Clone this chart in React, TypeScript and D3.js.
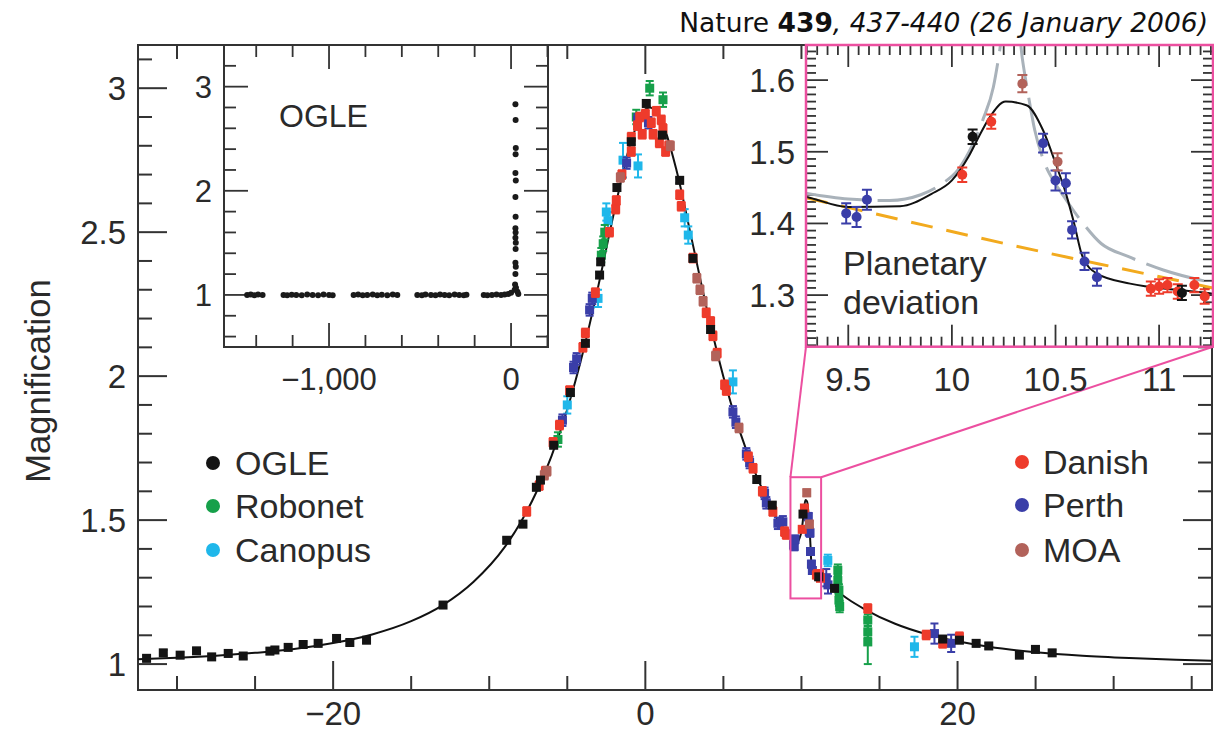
import React, { useEffect, useRef } from 'react';
import * as d3 from 'd3';

const W = 1214;
const H = 734;

// best-fit model light curve (incl. the planetary bump)
const modelT = [-32.5, -30, -27.5, -25, -22.5, -20, -17.5, -15, -13, -11, -9, -8, -7, -6, -5, -4, -3, -2, -1, 0,
  0.3, 1, 2, 3, 4, 5, 6, 7, 8, 9, 9.3, 9.5, 9.75, 9.9, 10, 10.08, 10.13, 10.18, 10.26, 10.36,
  10.44, 10.5, 10.55, 10.59, 10.63, 10.7, 10.86, 11.1, 11.26, 12, 13, 14, 16, 18, 20, 22, 25, 28, 31, 34, 36.3];
const modelM = [1.017, 1.022, 1.029, 1.039, 1.052, 1.073, 1.103, 1.149, 1.204, 1.286, 1.407, 1.491, 1.595, 1.724, 1.885, 2.082, 2.316, 2.57, 2.799, 2.927,
  2.933, 2.893, 2.714, 2.468, 2.219, 1.998, 1.816, 1.669, 1.55, 1.455, 1.437, 1.423, 1.424, 1.441, 1.46, 1.493, 1.521, 1.547, 1.57, 1.565,
  1.53, 1.484, 1.442, 1.4, 1.354, 1.33, 1.316, 1.307, 1.302, 1.267, 1.225, 1.192, 1.14, 1.104, 1.079, 1.06, 1.041, 1.029, 1.021, 1.015, 1.012];

// zoom panel: no-planet curve (orange dashes) and alternative model (grey dashes)
const singleT = [9.296, 9.8, 10.3, 10.8, 11.26];
const singleM = [1.436, 1.402, 1.369, 1.338, 1.31];
const altT = [9.296, 9.5, 9.7, 9.85, 9.95, 10.03, 10.1, 10.15, 10.2, 10.23, 10.26, 10.31, 10.34, 10.37, 10.4, 10.44, 10.5, 10.53, 10.62, 10.72, 10.85, 11.02, 11.26];
const altM = [1.442, 1.434, 1.432, 1.44, 1.455, 1.475, 1.51, 1.545, 1.59, 1.64, 1.7, 1.7, 1.63, 1.577, 1.53, 1.49, 1.455, 1.442, 1.405, 1.372, 1.354, 1.335, 1.317];

// [days, magnification, error]
const ogle = [[-31.95, 1.02], [-30.88, 1.039], [-29.8, 1.031], [-28.75, 1.046], [-27.78, 1.025], [-26.72, 1.037], [-25.76, 1.028],
  [-24.05, 1.045], [-23.73, 1.049], [-22.88, 1.058], [-21.92, 1.068], [-20.96, 1.072], [-19.78, 1.089], [-18.93, 1.075], [-17.86, 1.083],
  [-12.96, 1.205], [-8.88, 1.43], [-7.84, 1.486], [-6.98, 1.614], [-6.72, 1.639], [-5.87, 1.76], [-4.8, 1.943], [-3.84, 2.114],
  [-2.93, 2.351], [-2.86, 2.397], [-1.82, 2.655], [-0.9, 2.814], [0.06, 2.947], [1.09, 2.837], [2.2, 2.68], [3.05, 2.409], [4.18, 2.162],
  [7.14, 1.641], [8.13, 1.552], [10.1, 1.521], [11.11, 1.303], [12.12, 1.263], [19.05, 1.087], [20.12, 1.083], [21.19, 1.072],
  [22.0, 1.063], [23.96, 1.031], [24.99, 1.051], [26.06, 1.039]];
const robonet = [[-5.6, 1.78], [-2.82, 2.42], [-2.7, 2.46], [-2.6, 2.5], [-0.58, 2.9], [0.28, 3.0], [1.13, 2.96],
  [12.33, 1.326, 0.02], [12.33, 1.29, 0.02], [12.4, 1.257, 0.02], [12.4, 1.222, 0.02], [12.45, 1.2, 0.02],
  [14.25, 1.153, 0.02], [14.25, 1.112, 0.02], [14.25, 1.077, 0.077]];
const canopus = [[-5.0, 1.9], [-3.03, 2.27], [-2.5, 2.57], [-2.39, 2.54], [-1.43, 2.75, 0.06], [-0.47, 2.73, 0.04], [2.52, 2.55],
  [2.75, 2.49], [5.61, 1.98, 0.04], [11.69, 1.36, 0.02], [17.24, 1.06, 0.035]];
const danish = [[-7.6, 1.53], [-6.8, 1.62], [-6.4, 1.67], [-5.91, 1.77], [-5.5, 1.83], [-4.85, 1.95], [-4.0, 2.1], [-3.84, 2.15],
  [-3.2, 2.29], [-2.3, 2.5], [-1.9, 2.58], [-1.86, 2.61], [-1.5, 2.7], [-0.9, 2.83], [-0.9, 2.78], [-0.5, 2.87], [-0.36, 2.9],
  [-0.2, 2.84], [0.0, 2.91], [0.38, 2.88], [0.5, 2.84], [0.7, 2.92], [0.9, 2.81], [1.02, 2.89], [1.13, 2.86], [1.3, 2.78], [1.5, 2.8],
  [2.2, 2.63], [2.3, 2.59], [3.05, 2.41], [3.9, 2.22], [4.18, 2.19], [4.33, 2.14], [4.6, 2.08], [5.08, 1.97], [5.19, 1.95],
  [6.6, 1.72], [6.9, 1.68], [7.5, 1.6], [8.17, 1.53], [8.92, 1.46], [9.03, 1.45], [10.05, 1.468, 0.01], [10.19, 1.542, 0.01],
  [10.96, 1.309, 0.01], [11.0, 1.312, 0.01], [11.04, 1.314, 0.01], [11.09, 1.305, 0.01], [11.17, 1.314, 0.01], [11.22, 1.298, 0.01],
  [14.25, 1.193], [17.99, 1.101], [19.05, 1.072], [20.12, 1.095]];
const perth = [[-5.31, 1.847], [-4.6, 2.03], [-4.4, 2.06], [-3.57, 2.23], [-3.4, 2.27], [-1.2, 2.74], [-0.5, 2.89], [0.2, 2.88],
  [5.61, 1.876], [5.8, 1.84], [6.47, 1.73], [6.68, 1.7], [7.64, 1.593], [7.75, 1.56], [8.49, 1.489], [8.81, 1.494],
  [9.49, 1.414, 0.014], [9.54, 1.409, 0.014], [9.59, 1.433, 0.014], [10.44, 1.512, 0.013], [10.5, 1.46, 0.014], [10.55, 1.456, 0.014],
  [10.58, 1.391, 0.012], [10.64, 1.347, 0.012], [10.7, 1.325, 0.012], [11.59, 1.3, 0.03], [11.7, 1.275, 0.03],
  [18.52, 1.106, 0.035], [19.59, 1.072, 0.03]];
const moa = [[-6.47, 1.656], [-6.3, 1.67], [-1.6, 2.69], [1.6, 2.8], [3.3, 2.34], [3.5, 2.3], [3.7, 2.26], [4.5, 2.07], [6.0, 1.82],
  [10.34, 1.595, 0.012], [10.51, 1.486, 0.012]];

// OGLE long-term light curve (upper-left inset)
const ogleLongT = [-1450, -1430, -1410, -1390, -1365, -1250, -1230, -1205, -1180, -1150, -1120, -1090, -1060, -1030, -1000, -980,
  -865, -840, -815, -790, -760, -735, -710, -680, -650, -625, -515, -490, -470, -440, -415, -390, -365, -340, -310, -285, -260, -245,
  -150, -130, -105, -80, -55, -35, -15, 0, 20, 35, 40, 27, 22, 24, 26, 24, 25, 26, 24, 25, 24, 25, 24, 26, 24, 25, 26, 25, 24];
const ogleLongM = [1.0, 1.005, 0.998, 1.003, 1.0, 1.0, 0.997, 1.002, 1.0, 0.996, 1.003, 1.0, 0.998, 1.004, 1.0, 0.997,
  1.0, 1.003, 0.998, 1.0, 1.004, 0.997, 1.002, 0.998, 1.003, 1.0, 1.0, 0.996, 1.003, 1.0, 0.997, 1.004, 1.0, 0.996, 1.003, 1.0, 0.998, 1.002,
  1.0, 0.997, 1.0, 1.003, 1.0, 1.005, 1.01, 1.02, 1.05, 1.03, 1.01, 1.07, 1.1, 1.2, 1.27, 1.31, 1.44, 1.5, 1.55, 1.6, 1.64, 1.75, 1.94, 2.1,
  2.17, 2.35, 2.41, 2.68, 2.83, 2.95];

const mainXLabels = [-20, 0, 20];
const mainYLabels = [1, 1.5, 2, 2.5, 3];
const ogleXLabels = [-1000, 0];
const ogleYLabels = [1, 2, 3];
const zoomXLabels = [9.5, 10, 10.5, 11];
const zoomYLabels = [1.3, 1.4, 1.5, 1.6];

const colors = {
  OGLE: '#141414', Robonet: '#16a04a', Canopus: '#1fb7ea',
  Danish: '#ee3b2b', Perth: '#3a3ea8', MOA: '#b2625a',
};
const legendLeft = ['OGLE', 'Robonet', 'Canopus'];
const legendRight = ['Danish', 'Perth', 'MOA'];

// drawn back to front
const series = [
  { name: 'Canopus', data: canopus, err: 0.03 },
  { name: 'Robonet', data: robonet, err: 0.025 },
  { name: 'Perth', data: perth, err: 0.02 },
  { name: 'Danish', data: danish, err: 0.015 },
  { name: 'MOA', data: moa, err: 0.015 },
  { name: 'OGLE', data: ogle, err: 0.01 },
];

const FONT = '"Liberation Sans", Arial, Helvetica, sans-serif';
const TXT = '#2a2a2a';
const PINK = '#ec4fa0';

const isMult = (v, step) => Math.abs(v / step - Math.round(v / step)) < 1e-6;

function drawTicks(g, xs, ys, xVals, yVals, xMaj, yMaj, lenMaj, lenMin, sw) {
  const [xa, xb] = xs.range();
  const [ya, yb] = ys.range();
  xVals.forEach(v => {
    const L = xMaj(v) ? lenMaj : lenMin;
    const px = xs(v);
    g.append('line').attr('x1', px).attr('x2', px).attr('y1', ya).attr('y2', ya - L);
    g.append('line').attr('x1', px).attr('x2', px).attr('y1', yb).attr('y2', yb + L);
  });
  yVals.forEach(v => {
    const L = yMaj(v) ? lenMaj : lenMin;
    const py = ys(v);
    g.append('line').attr('x1', xa).attr('x2', xa + L).attr('y1', py).attr('y2', py);
    g.append('line').attr('x1', xb).attr('x2', xb - L).attr('y1', py).attr('y2', py);
  });
  g.selectAll('line').attr('stroke', '#333').attr('stroke-width', sw);
}

const App = () => {
  const ref = useRef(null);

  useEffect(() => {
    const svg = d3.select(ref.current);
    svg.selectAll('*').remove();

    svg.append('rect').attr('width', W).attr('height', H).attr('fill', '#fff');

    // ---- main panel ----
    const x = d3.scaleLinear().domain([-32.5, 36.3]).range([138, 1212]);
    const y = d3.scaleLinear().domain([0.91, 3.15]).range([690, 45]);

    const tg = svg.append('g');
    drawTicks(tg, x, y, d3.range(-30, 36, 5), d3.range(10, 32).map(v => v / 10),
      v => isMult(v, 20), v => isMult(v, 0.5), 29, 14, 2);

    svg.append('rect').attr('x', 138).attr('y', 45).attr('width', 1212 - 138).attr('height', 690 - 45)
      .attr('fill', 'none').attr('stroke', '#333').attr('stroke-width', 2);

    svg.append('g').selectAll('text').data(mainXLabels).join('text')
      .attr('x', d => x(d)).attr('y', 725).attr('text-anchor', 'middle')
      .attr('font-family', FONT).attr('font-size', 33).attr('fill', TXT)
      .text(d => d3.format('')(d));
    svg.append('g').selectAll('text').data(mainYLabels).join('text')
      .attr('x', 126).attr('y', d => y(d)).attr('dy', '0.36em').attr('text-anchor', 'end')
      .attr('font-family', FONT).attr('font-size', 33).attr('fill', TXT)
      .text(d => d3.format('')(d));
    svg.append('text').attr('transform', 'translate(50,381) rotate(-90)').attr('text-anchor', 'middle')
      .attr('font-family', FONT).attr('font-size', 34.5).attr('fill', TXT).text('Magnification');

    const idx = d3.range(modelT.length);
    const mainLine = d3.line().x(i => x(modelT[i])).y(i => y(modelM[i])).curve(d3.curveMonotoneX);
    svg.append('path').attr('d', mainLine(idx)).attr('fill', 'none').attr('stroke', '#111').attr('stroke-width', 2);

    series.forEach(s => {
      const g = svg.append('g').attr('stroke', colors[s.name]).attr('fill', colors[s.name]);
      s.data.forEach(p => {
        const e = p[2] ?? s.err;
        const px = x(p[0]);
        const y1 = y(p[1] - e), y2 = y(p[1] + e);
        g.append('line').attr('x1', px).attr('x2', px).attr('y1', y1).attr('y2', y2).attr('stroke-width', 2);
        g.append('line').attr('x1', px - 4).attr('x2', px + 4).attr('y1', y1).attr('y2', y1).attr('stroke-width', 2);
        g.append('line').attr('x1', px - 4).attr('x2', px + 4).attr('y1', y2).attr('y2', y2).attr('stroke-width', 2);
        g.append('rect').attr('x', px - 4.5).attr('y', y(p[1]) - 4.5).attr('width', 9).attr('height', 9).attr('stroke', 'none');
      });
    });

    // legends
    const legend = (names, cx, tx, ys) => {
      names.forEach((n, i) => {
        svg.append('circle').attr('cx', cx).attr('cy', ys[i]).attr('r', 7).attr('fill', colors[n]);
        svg.append('text').attr('x', tx).attr('y', ys[i]).attr('dy', '0.36em')
          .attr('font-family', FONT).attr('font-size', 34).attr('fill', TXT).text(n);
      });
    };
    legend(legendLeft, 213, 235, [463, 506, 550]);
    legend(legendRight, 1022, 1043, [462, 505, 550]);

    // ---- upper-left inset: OGLE long-term ----
    const xl = d3.scaleLinear().domain([-1577, 203]).range([224, 548]);
    const yl = d3.scaleLinear().domain([0.5, 3.4]).range([347, 45]);
    svg.append('rect').attr('x', 224).attr('y', 45).attr('width', 324).attr('height', 302).attr('fill', '#fff');
    const tl = svg.append('g');
    drawTicks(tl, xl, yl, d3.range(-1400, 201, 200), d3.range(3, 18).map(v => v / 5),
      v => isMult(v, 1000), v => isMult(v, 1), 24, 12, 1.8);
    svg.append('rect').attr('x', 224).attr('y', 45).attr('width', 324).attr('height', 302)
      .attr('fill', 'none').attr('stroke', '#333').attr('stroke-width', 2);
    svg.append('g').selectAll('circle').data(d3.range(ogleLongT.length)).join('circle')
      .attr('cx', i => xl(ogleLongT[i])).attr('cy', i => yl(ogleLongM[i])).attr('r', 3).attr('fill', '#1a1a1a');
    svg.append('g').selectAll('text').data(ogleXLabels).join('text')
      .attr('x', d => xl(d)).attr('y', 390).attr('text-anchor', 'middle')
      .attr('font-family', FONT).attr('font-size', 31).attr('fill', TXT).text(d => d3.format(',')(d));
    svg.append('g').selectAll('text').data(ogleYLabels).join('text')
      .attr('x', 212).attr('y', d => yl(d)).attr('dy', '0.36em').attr('text-anchor', 'end')
      .attr('font-family', FONT).attr('font-size', 31).attr('fill', TXT).text(d => d);
    svg.append('text').attr('x', 279).attr('y', 127).attr('font-family', FONT).attr('font-size', 32)
      .attr('fill', TXT).text('OGLE');

    // ---- zoom box and connectors ----
    const zx0 = 9.296, zx1 = 11.26, zy0 = 1.228, zy1 = 1.649;
    const xr = d3.scaleLinear().domain([zx0, zx1]).range([806, 1213]);
    const yr = d3.scaleLinear().domain([zy0, zy1]).range([346.7, 45]);
    svg.append('rect').attr('x', x(zx0)).attr('y', y(zy1)).attr('width', x(zx1) - x(zx0)).attr('height', y(zy0) - y(zy1))
      .attr('fill', 'none').attr('stroke', PINK).attr('stroke-width', 2);
    svg.append('line').attr('x1', x(zx0)).attr('y1', y(zy1)).attr('x2', 806).attr('y2', 346.7)
      .attr('stroke', PINK).attr('stroke-width', 2);
    svg.append('line').attr('x1', x(zx1)).attr('y1', y(zy1)).attr('x2', 1213).attr('y2', 346.7)
      .attr('stroke', PINK).attr('stroke-width', 2);

    // ---- upper-right inset: planetary deviation ----
    svg.append('rect').attr('x', 806).attr('y', 45).attr('width', 407).attr('height', 301.7).attr('fill', '#fff');
    svg.append('clipPath').attr('id', 'zclip').append('rect')
      .attr('x', 806).attr('y', 45).attr('width', 407).attr('height', 301.7);
    const tr = svg.append('g');
    drawTicks(tr, xr, yr, d3.range(186, 226).map(v => v / 20), d3.range(123, 165).map(v => v / 100),
      v => isMult(v, 0.5), v => isMult(v, 0.1), 22, 10, 1.8);

    const zg = svg.append('g').attr('clip-path', 'url(#zclip)');
    const alt = d3.line().x(i => xr(altT[i])).y(i => yr(altM[i])).curve(d3.curveMonotoneX);
    zg.append('path').attr('d', alt(d3.range(altT.length))).attr('fill', 'none')
      .attr('stroke', '#a9b2ba').attr('stroke-width', 3).attr('stroke-dasharray', '60,12');
    const single = d3.line().x(i => xr(singleT[i])).y(i => yr(singleM[i])).curve(d3.curveMonotoneX);
    zg.append('path').attr('d', single(d3.range(singleT.length))).attr('fill', 'none')
      .attr('stroke', '#f2aa1e').attr('stroke-width', 3).attr('stroke-dasharray', '22,14');
    const zoomLine = d3.line().x(i => xr(modelT[i])).y(i => yr(modelM[i])).curve(d3.curveMonotoneX);
    zg.append('path').attr('d', zoomLine(idx.filter(i => modelT[i] >= 9 && modelT[i] <= 12)))
      .attr('fill', 'none').attr('stroke', '#111').attr('stroke-width', 2);

    series.forEach(s => {
      const g = zg.append('g').attr('stroke', colors[s.name]).attr('fill', colors[s.name]);
      s.data.filter(p => p[0] >= zx0 && p[0] <= zx1 + 0.05).forEach(p => {
        const e = p[2] ?? s.err;
        const px = xr(p[0]);
        const y1 = yr(p[1] - e), y2 = yr(p[1] + e);
        g.append('line').attr('x1', px).attr('x2', px).attr('y1', y1).attr('y2', y2).attr('stroke-width', 2);
        g.append('line').attr('x1', px - 5).attr('x2', px + 5).attr('y1', y1).attr('y2', y1).attr('stroke-width', 2);
        g.append('line').attr('x1', px - 5).attr('x2', px + 5).attr('y1', y2).attr('y2', y2).attr('stroke-width', 2);
        g.append('circle').attr('cx', px).attr('cy', yr(p[1])).attr('r', 5).attr('stroke', 'none');
      });
    });

    svg.append('rect').attr('x', 806).attr('y', 45).attr('width', 407).attr('height', 301.7)
      .attr('fill', 'none').attr('stroke', PINK).attr('stroke-width', 2.5);
    svg.append('g').selectAll('text').data(zoomXLabels).join('text')
      .attr('x', d => xr(d)).attr('y', 391).attr('text-anchor', 'middle')
      .attr('font-family', FONT).attr('font-size', 33).attr('fill', TXT).text(d => d);
    svg.append('g').selectAll('text').data(zoomYLabels).join('text')
      .attr('x', 795).attr('y', d => yr(d)).attr('dy', '0.36em').attr('text-anchor', 'end')
      .attr('font-family', FONT).attr('font-size', 33).attr('fill', TXT).text(d => d);
    svg.append('text').attr('x', 843).attr('y', 275).attr('font-family', FONT).attr('font-size', 34)
      .attr('fill', TXT).text('Planetary');
    svg.append('text').attr('x', 843).attr('y', 314).attr('font-family', FONT).attr('font-size', 34)
      .attr('fill', TXT).text('deviation');

    // citation
    const cite = svg.append('text').attr('x', 1208).attr('y', 32).attr('text-anchor', 'end')
      .attr('font-family', '"DejaVu Sans", Verdana, sans-serif').attr('font-size', 26.5).attr('fill', '#111');
    cite.append('tspan').text('Nature ');
    cite.append('tspan').attr('font-weight', 'bold').text('439');
    cite.append('tspan').attr('font-style', 'italic').text(', 437-440 (26 January 2006)');
  }, []);

  return (
    <svg ref={ref} width={W} height={H}
      style={{ position: 'absolute', left: 0, top: 0, display: 'block' }} />
  );
};

export default App;
